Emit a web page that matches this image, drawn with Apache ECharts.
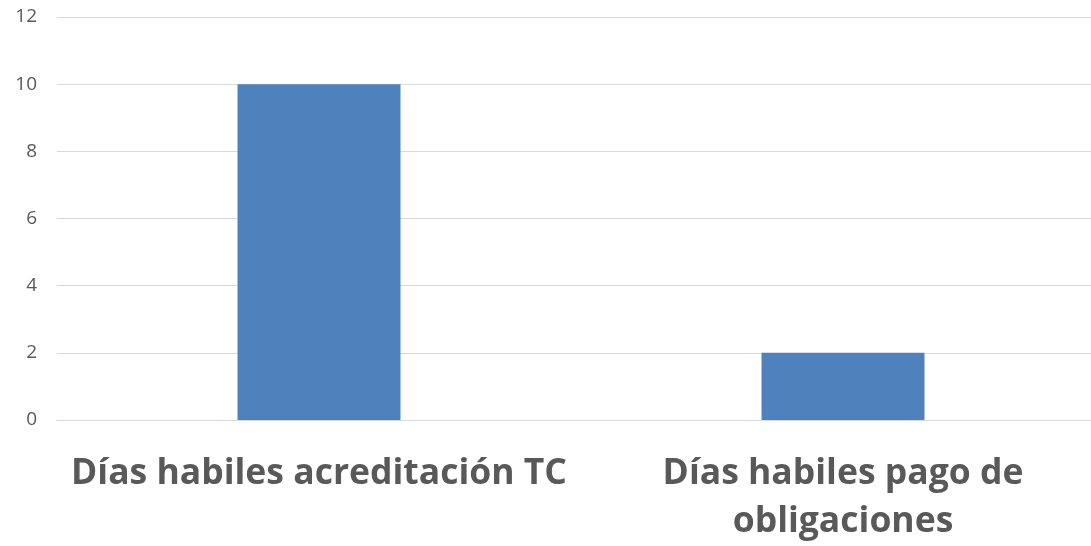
<!DOCTYPE html>
<html>
<head>
<meta charset="utf-8">
<script src="https://cdn.jsdelivr.net/npm/echarts@6/dist/echarts.min.js"></script>
<style>
  html, body { margin: 0; padding: 0; background: #fff; overflow: hidden; }
  /* plot area runs a little past the right edge, like the original */
  #chart { width: 1105px; height: 546px; }
</style>
</head>
<body>
<div id="chart"></div>
<script>
// categories and values
const categories = ['Días habiles acreditación TC', 'Días habiles pago de\nobligaciones'];
const values = [10, 2];
const yTicks = { min: 0, max: 12, interval: 2 };

let chart = echarts.init(document.getElementById('chart'), null, { renderer: 'canvas' });

chart.setOption({
    animation: false,
    grid: { left: 57, right: 0, top: 17, bottom: 124, containLabel: false },
    xAxis: {
        type: 'category',
        data: categories,
        axisLine: { show: true, lineStyle: { color: '#d9d9d9', width: 1 } },
        axisTick: { show: false },
        axisLabel: {
            color: '#595959',
            fontFamily: 'Open Sans',
            fontWeight: 'bold',
            fontSize: 35.5,
            margin: 30,
            lineHeight: 48,
            interval: 0
        }
    },
    yAxis: {
        type: 'value',
        min: yTicks.min,
        max: yTicks.max,
        interval: yTicks.interval,
        axisLine: { show: false },
        axisTick: { show: false },
        splitLine: { lineStyle: { color: '#d9d9d9', width: 1 } },
        axisLabel: {
            color: '#595959',
            fontFamily: 'Open Sans',
            fontSize: 19,
            margin: 20
        }
    },
    series: [
        {
            type: 'bar',
            data: values,
            barWidth: '31.1%',
            itemStyle: { color: '#4f81bd' }
        }
    ]
});
</script>
</body>
</html>
